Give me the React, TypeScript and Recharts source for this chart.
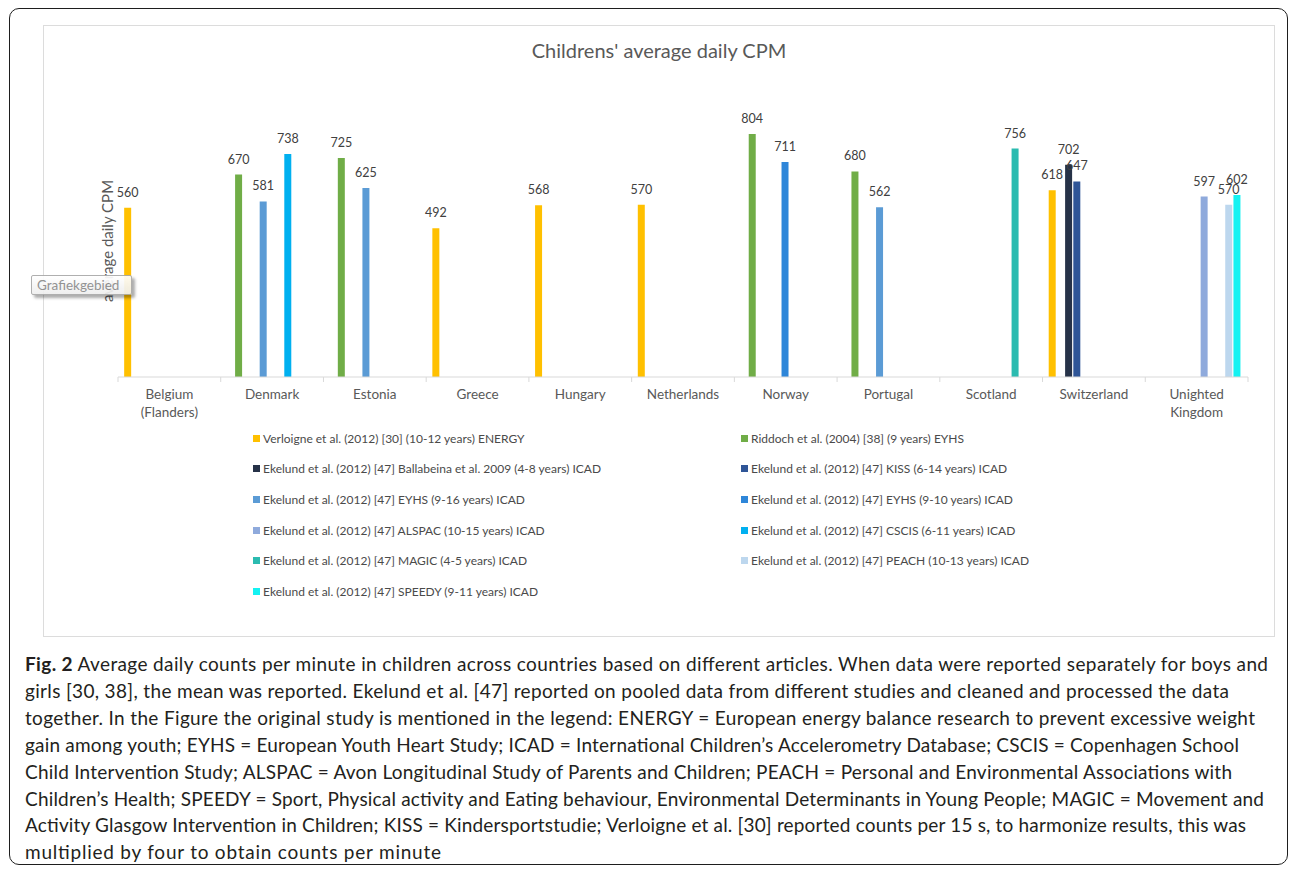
import React from 'react';
import { BarChart, Bar, XAxis, YAxis, Legend, LabelList } from 'recharts';

// Countries on the category axis ("\n" splits a label over two lines)
const countries = [
  'Belgium\n(Flanders)',
  'Denmark',
  'Estonia',
  'Greece',
  'Hungary',
  'Netherlands',
  'Norway',
  'Portugal',
  'Scotland',
  'Switzerland',
  'Unighted\nKingdom',
];

// Average daily counts per minute, one array per study (null = not reported)
const verloigne = [560, null, null, 492, 568, 570, null, null, null, 618, null];
const riddoch = [null, 670, 725, null, null, null, 804, 680, null, null, null];
const ballabeina = [null, null, null, null, null, null, null, null, null, 702, null];
const kiss = [null, null, null, null, null, null, null, null, null, 647, null];
const eyhs916 = [null, 581, 625, null, null, null, null, 562, null, null, null];
const eyhs910 = [null, null, null, null, null, null, 711, null, null, null, null];
const alspac = [null, null, null, null, null, null, null, null, null, null, 597];
const cscis = [null, 738, null, null, null, null, null, null, null, null, null];
const magic = [null, null, null, null, null, null, null, null, 756, null, null];
const peach = [null, null, null, null, null, null, null, null, null, null, 570];
const speedy = [null, null, null, null, null, null, null, null, null, null, 602];

const series = [
  { key: 'verloigne', name: 'Verloigne et al. (2012) [30] (10-12 years) ENERGY', color: '#FFC000', values: verloigne },
  { key: 'riddoch', name: 'Riddoch et al. (2004) [38] (9 years) EYHS', color: '#70AD47', values: riddoch },
  { key: 'ballabeina', name: 'Ekelund et al. (2012) [47] Ballabeina et al. 2009 (4-8 years) ICAD', color: '#263248', values: ballabeina },
  { key: 'kiss', name: 'Ekelund et al. (2012) [47] KISS (6-14 years) ICAD', color: '#2F5597', values: kiss },
  { key: 'eyhs916', name: 'Ekelund et al. (2012) [47] EYHS (9-16 years) ICAD', color: '#5B9BD5', values: eyhs916 },
  { key: 'eyhs910', name: 'Ekelund et al. (2012) [47] EYHS (9-10 years) ICAD', color: '#2E86D9', values: eyhs910 },
  { key: 'alspac', name: 'Ekelund et al. (2012) [47] ALSPAC (10-15 years) ICAD', color: '#8FAADC', values: alspac },
  { key: 'cscis', name: 'Ekelund et al. (2012) [47] CSCIS (6-11 years) ICAD', color: '#00B0F0', values: cscis },
  { key: 'magic', name: 'Ekelund et al. (2012) [47] MAGIC (4-5 years) ICAD', color: '#2BBBB0', values: magic },
  { key: 'peach', name: 'Ekelund et al. (2012) [47] PEACH (10-13 years) ICAD', color: '#BDD7EE', values: peach },
  { key: 'speedy', name: 'Ekelund et al. (2012) [47] SPEEDY (9-11 years) ICAD', color: '#14F2F2', values: speedy },
];

const rows = countries.map((country, i) => {
  const row: Record<string, string | number | null> = { country };
  series.forEach((s) => {
    row[s.key] = s.values[i];
  });
  return row;
});

const captionLines = [
  'girls [30, 38], the mean was reported. Ekelund et al. [47] reported on pooled data from different studies and cleaned and processed the data',
  'together. In the Figure the original study is mentioned in the legend: ENERGY = European energy balance research to prevent excessive weight',
  'gain among youth; EYHS = European Youth Heart Study; ICAD = International Children\u2019s Accelerometry Database; CSCIS = Copenhagen School',
  'Child Intervention Study; ALSPAC = Avon Longitudinal Study of Parents and Children; PEACH = Personal and Environmental Associations with',
  'Children\u2019s Health; SPEEDY = Sport, Physical activity and Eating behaviour, Environmental Determinants in Young People; MAGIC = Movement and',
  'Activity Glasgow Intervention in Children; KISS = Kindersportstudie; Verloigne et al. [30] reported counts per 15 s, to harmonize results, this was',
  'multiplied by four to obtain counts per minute',
];
const captionLineWidths = [1204, 1230, 1214, 1207, 1239, 1221, 416];

const CHART_FONT = 'Lato, "Open Sans", sans-serif';
const CAPTION_FONT = 'Lato, "Open Sans", sans-serif';

const CountryTick = (props: any) => {
  const { x, y, payload, index, visibleTicksCount } = props;
  const half = payload && payload.offset ? payload.offset : 0;
  const lines = String(payload.value).split('\n');
  return (
    <g>
      <line x1={x - half} x2={x - half} y1={y} y2={y + 5} stroke="#d9d9d9" />
      {index === visibleTicksCount - 1 && (
        <line x1={x + half} x2={x + half} y1={y} y2={y + 5} stroke="#d9d9d9" />
      )}
      <text x={x} y={y + 22} textAnchor="middle" fill="#595959" fontSize={13.5} fontFamily={CHART_FONT}>
        {lines.map((l, i) => (
          <tspan key={i} x={x} dy={i === 0 ? 0 : 17.5}>
            {l}
          </tspan>
        ))}
      </text>
    </g>
  );
};

const StudyLegend = (props: any) => {
  const payload: any[] = props.payload || [];
  const ordered = series.map((s) => payload.find((p) => p.dataKey === s.key || p.value === s.name) || { value: s.name, color: s.color });
  return (
    <div
      style={{
        display: 'grid',
        gridTemplateColumns: '488px 488px',
        fontFamily: CHART_FONT,
        fontSize: 12,
        color: '#4a4a4a',
      }}
    >
      {ordered.map((p, i) => (
        <div key={i} style={{ height: 30.6, display: 'flex', alignItems: 'center', whiteSpace: 'nowrap' }}>
          <span style={{ width: 7, height: 7, background: p.color, marginRight: 3, display: 'inline-block' }} />
          <span>{p.value}</span>
        </div>
      ))}
    </div>
  );
};

export default function App() {
  return (
    <div
      style={{
        position: 'absolute',
        left: 0,
        top: 0,
        width: 1292,
        height: 869,
        background: '#ffffff',
        overflow: 'hidden',
        fontFamily: CHART_FONT,
      }}
    >
      {/* figure frame */}
      <div
        style={{
          position: 'absolute',
          left: 9,
          top: 8,
          width: 1279,
          height: 857,
          border: '1.5px solid #1e1e1e',
          borderRadius: 10,
          boxSizing: 'border-box',
        }}
      />
      {/* chart area border */}
      <div
        style={{
          position: 'absolute',
          left: 43,
          top: 25,
          width: 1232,
          height: 612,
          border: '1px solid #dcdcdc',
          boxSizing: 'border-box',
        }}
      />
      <div
        style={{
          position: 'absolute',
          left: 0,
          top: 38,
          width: 1318,
          textAlign: 'center',
          fontSize: 20,
          lineHeight: '24px',
          color: '#595959',
        }}
      >
        Childrens' average daily CPM
      </div>
      <div style={{ position: 'absolute', left: 0, top: 0 }}>
        <BarChart
          width={1292}
          height={640}
          data={rows}
          margin={{ top: 105, right: 44, bottom: 223, left: 98 }}
          barCategoryGap="6%"
          barGap={1.2}
        >
          <YAxis
            width={20}
            domain={[0, 900]}
            axisLine={false}
            tickLine={false}
            tick={false}
            label={{ value: 'average daily CPM', angle: -90, position: 'center', fill: '#595959', fontSize: 15 }}
          />
          <XAxis
            dataKey="country"
            height={40}
            interval={0}
            tickSize={0}
            tickMargin={0}
            tickLine={false}
            axisLine={{ stroke: '#d9d9d9' }}
            tick={<CountryTick />}
          />
          <Legend
            layout="horizontal"
            verticalAlign="middle"
            align="center"
            content={<StudyLegend />}
            wrapperStyle={{ left: 253, top: 423, width: 1000, height: 190 }}
          />
          {series.map((s) => (
            <Bar key={s.key} dataKey={s.key} name={s.name} fill={s.color} isAnimationActive={false}>
              <LabelList dataKey={s.key} position="top" offset={11} fill="#404040" fontSize={12.5} />
            </Bar>
          ))}
        </BarChart>
      </div>
      {/* hover hint box over the plot */}
      <div
        style={{
          position: 'absolute',
          left: 31,
          top: 275,
          width: 101,
          height: 20,
          border: '1px solid #a9a9a9',
          borderRadius: 2,
          background: 'linear-gradient(#ffffff, #eeeeee)',
          boxShadow: '3px 3px 3px rgba(0,0,0,0.35)',
          color: '#8a8a8a',
          fontSize: 13.5,
          lineHeight: '18px',
          paddingLeft: 5,
          boxSizing: 'border-box',
          opacity: 0.92,
        }}
      >
        Grafiekgebied
      </div>
      {/* figure caption */}
      <svg width={1292} height={869} style={{ position: 'absolute', left: 0, top: 0, pointerEvents: 'none' }}>
        <text x={25} y={671} textLength={1243} lengthAdjust="spacing" fontFamily={CAPTION_FONT} fontSize={19} fill="#231f20">
          <tspan fontWeight="bold">Fig. 2</tspan>
          <tspan> Average daily counts per minute in children across countries based on different articles. When data were reported separately for boys and</tspan>
        </text>
        {captionLines.map((line, i) => (
          <text
            key={i}
            x={25}
            y={671 + 26.9 * (i + 1)}
            textLength={captionLineWidths[i]}
            lengthAdjust="spacing"
            fontFamily={CAPTION_FONT}
            fontSize={19}
            fill="#231f20"
          >
            {line}
          </text>
        ))}
      </svg>
    </div>
  );
}
